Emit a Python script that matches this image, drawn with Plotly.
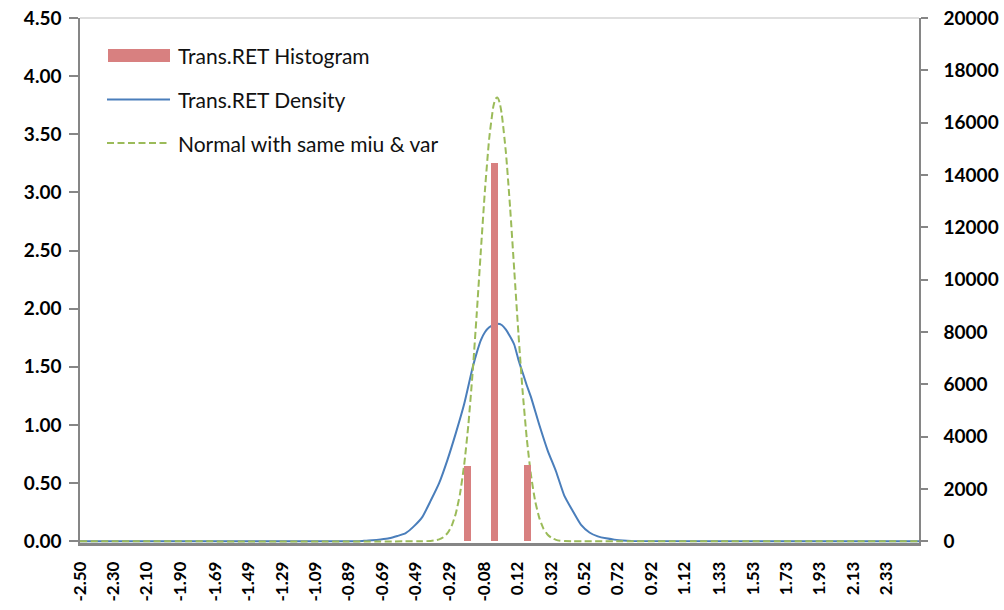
import plotly.graph_objects as go

# ---------------- data ----------------
x_tick_labels = ["-2.50", "-2.30", "-2.10", "-1.90", "-1.69", "-1.49", "-1.29", "-1.09",
                 "-0.89", "-0.69", "-0.49", "-0.29", "-0.08", "0.12", "0.32", "0.52",
                 "0.72", "0.92", "1.12", "1.33", "1.53", "1.73", "1.93", "2.13", "2.33"]
x_min = -2.50
x_max = 2.523

# histogram (secondary axis, counts)
hist_x = [-0.181, -0.018, 0.179]
hist_counts = [2870, 14470, 2900]

# kernel density of Trans.RET (primary axis)
dens_x = [-2.50, -0.85, -0.80, -0.75, -0.70, -0.65, -0.60, -0.55, -0.50, -0.45, -0.40,
          -0.35, -0.30, -0.25, -0.20, -0.15, -0.125, -0.10, -0.075, -0.05, -0.025, 0.00,
          0.025, 0.05, 0.075, 0.10, 0.125, 0.15, 0.175, 0.20, 0.25, 0.30, 0.35, 0.40,
          0.45, 0.50, 0.55, 0.60, 0.65, 0.70, 0.75, 0.80, 2.523]
dens_y = [0.0, 0.0, 0.004, 0.008, 0.015, 0.025, 0.045, 0.07, 0.13, 0.21, 0.35,
          0.50, 0.70, 0.93, 1.18, 1.49, 1.62, 1.73, 1.80, 1.84, 1.86, 1.87,
          1.86, 1.82, 1.76, 1.69, 1.56, 1.45, 1.34, 1.24, 1.00, 0.78, 0.60, 0.39,
          0.26, 0.14, 0.075, 0.042, 0.025, 0.014, 0.006, 0.002, 0.0]

# normal with same mean & variance (primary axis)
norm_x = [-2.50, -0.45, -0.40, -0.375, -0.35, -0.325, -0.30, -0.275, -0.25, -0.225, -0.20,
          -0.175, -0.15, -0.125, -0.10, -0.075, -0.05, -0.025, -0.0125, 0.00, 0.0125, 0.025,
          0.05, 0.075, 0.10, 0.125, 0.15, 0.175, 0.20, 0.225, 0.25, 0.275, 0.30, 0.325,
          0.35, 0.375, 0.40, 0.45, 2.523]
norm_y = [0.0, 0.0, 0.003, 0.007, 0.016, 0.034, 0.069, 0.132, 0.239, 0.408, 0.657,
          1.001, 1.439, 1.953, 2.503, 3.031, 3.466, 3.742, 3.805, 3.815, 3.771, 3.674,
          3.341, 2.869, 2.327, 1.782, 1.289, 0.881, 0.568, 0.346, 0.199, 0.108, 0.056, 0.027,
          0.012, 0.005, 0.002, 0.0, 0.0]

series_names = ["Trans.RET Histogram", "Trans.RET Density", "Normal with same miu & var"]

# ---------------- styling ----------------
RED = "#D88080"
BLUE = "#4A7EBB"
GREEN = "#9BBB59"
AXIS = "#868686"
DASH = "7px,3.5px"

W, H = 1004, 610
L, R, T, B = 80, 85, 18, 67
PW, PH = W - L - R, H - T - B


def px_x(px):
    return (px - L) / PW


def px_y(py):
    return (H - B - py) / PH


fig = go.Figure()

fig.add_trace(go.Scatter(x=dens_x, y=dens_y, mode="lines", name=series_names[1],
                         line=dict(color=BLUE, width=2, shape="spline", smoothing=0.5),
                         yaxis="y"))
fig.add_trace(go.Scatter(x=norm_x, y=norm_y, mode="lines", name=series_names[2],
                         line=dict(color=GREEN, width=2, dash=DASH, shape="spline", smoothing=0.5),
                         yaxis="y"))
fig.add_trace(go.Bar(x=hist_x, y=hist_counts, name=series_names[0], width=0.039,
                     marker=dict(color=RED, line=dict(width=0)), yaxis="y2"))

tickfont = dict(family="Lato", size=19, color="black", weight="bold")
xtickfont = dict(family="Lato", size=17, color="black", weight="bold")

fig.update_layout(
    width=W, height=H,
    margin=dict(l=L, r=R, t=T, b=B, pad=0, autoexpand=False),
    paper_bgcolor="white", plot_bgcolor="white",
    showlegend=False,
    bargap=0,
    xaxis=dict(range=[x_min, x_max], tickmode="array", automargin=False,
               tickvals=[float(v) for v in x_tick_labels], ticktext=x_tick_labels,
               tickangle=-90, ticks="", showgrid=False, zeroline=False,
               showline=True, linecolor=AXIS, linewidth=2.5, layer="below traces",
               tickfont=xtickfont, ticklabelstandoff=9),
    yaxis=dict(range=[-0.015, 4.5], tick0=0, dtick=0.5, tickformat=".2f", automargin=False,
               ticks="outside", ticklen=9, tickcolor=AXIS, tickwidth=1.5,
               showgrid=False, zeroline=False, showline=True, linecolor=AXIS,
               linewidth=1.5, tickfont=tickfont, ticklabelstandoff=4),
    yaxis2=dict(range=[-0.015 / 4.5 * 20000, 20000], tick0=0, dtick=2000, tickformat="d",
                overlaying="y", side="right", ticks="outside", ticklen=7, automargin=False,
                tickcolor=AXIS, tickwidth=1.5, showgrid=False, zeroline=False,
                showline=True, linecolor=AXIS, linewidth=1.5, tickfont=tickfont,
                ticklabelstandoff=12),
)

# top border of plot area
fig.add_shape(type="line", xref="paper", yref="paper", x0=0, x1=1, y0=1, y1=1,
              line=dict(color="#BFBFBF", width=1))

# legend drawn by hand
leg_x0, leg_x1, txt_x = px_x(108), px_x(170), px_x(176)
rows = [55.5, 99.5, 143.0]
fig.add_shape(type="rect", xref="paper", yref="paper", x0=leg_x0, x1=leg_x1,
              y0=px_y(62), y1=px_y(49), line=dict(width=0), fillcolor=RED)
fig.add_shape(type="line", xref="paper", yref="paper", x0=px_x(107), x1=leg_x1,
              y0=px_y(rows[1]), y1=px_y(rows[1]), line=dict(color=BLUE, width=2))
fig.add_shape(type="line", xref="paper", yref="paper", x0=px_x(107), x1=leg_x1,
              y0=px_y(rows[2]), y1=px_y(rows[2]), line=dict(color=GREEN, width=2, dash=DASH))
for name, ry in zip(series_names, rows):
    fig.add_annotation(xref="paper", yref="paper", x=txt_x, y=px_y(ry), text=name,
                       showarrow=False, xanchor="left", yanchor="middle",
                       font=dict(family="Lato", size=21, color="#111111"))

fig.write_html("out.html")
